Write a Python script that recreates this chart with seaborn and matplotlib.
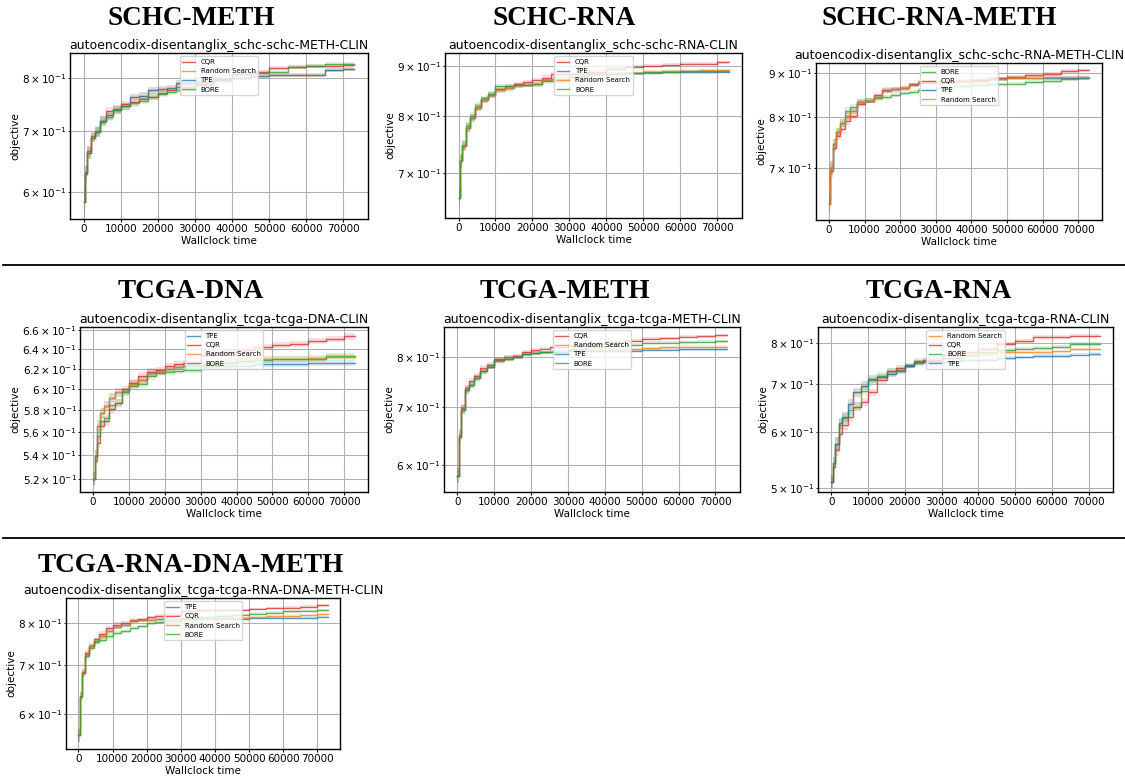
import matplotlib
matplotlib.use("Agg")
import matplotlib.pyplot as plt
from matplotlib.lines import Line2D
from matplotlib.ticker import MultipleLocator
import numpy as np
import pandas as pd
import seaborn as sns

# Shared wallclock grid (seconds); each value holds until the next grid point
wallclock = [0, 400, 1000, 2000, 3000, 4500, 6000, 8000, 10000, 12500, 15000,
             17500, 20000, 22500, 25000, 30000, 35000, 40000, 45000, 50000,
             55000, 60000, 65000, 70000, 73000]

# --- SCHC-METH -------------------------------------------------------------
schc_meth_cqr = [0.585, 0.630, 0.665, 0.690, 0.700, 0.718, 0.735, 0.740, 0.748, 0.752, 0.758, 0.763, 0.770,
                 0.775, 0.782, 0.788, 0.797, 0.808, 0.813, 0.820, 0.823, 0.824, 0.825, 0.826, 0.826]
schc_meth_rs = [0.585, 0.628, 0.662, 0.688, 0.698, 0.718, 0.728, 0.738, 0.745, 0.762, 0.765, 0.775, 0.778,
                0.780, 0.790, 0.792, 0.795, 0.800, 0.804, 0.805, 0.805, 0.806, 0.817, 0.818, 0.818]
schc_meth_tpe = [0.585, 0.628, 0.662, 0.688, 0.698, 0.718, 0.728, 0.738, 0.745, 0.762, 0.765, 0.775, 0.778,
                 0.780, 0.790, 0.792, 0.795, 0.800, 0.804, 0.805, 0.805, 0.806, 0.817, 0.818, 0.818]
schc_meth_bore = [0.585, 0.628, 0.662, 0.688, 0.698, 0.715, 0.725, 0.737, 0.745, 0.750, 0.755, 0.762, 0.768,
                  0.772, 0.776, 0.786, 0.797, 0.808, 0.810, 0.813, 0.822, 0.825, 0.829, 0.829, 0.829]
schc_meth_spread = [0.030, 0.020, 0.015, 0.012, 0.012, 0.012, 0.011, 0.010, 0.009, 0.008, 0.008, 0.008, 0.007,
                    0.007, 0.007, 0.006, 0.006, 0.006, 0.005, 0.005, 0.005, 0.005, 0.005, 0.005, 0.005]

# --- SCHC-RNA --------------------------------------------------------------
schc_rna_cqr = [0.661, 0.720, 0.746, 0.779, 0.797, 0.816, 0.831, 0.840, 0.853, 0.858, 0.862, 0.866, 0.871,
                0.876, 0.883, 0.884, 0.888, 0.894, 0.899, 0.901, 0.903, 0.905, 0.905, 0.908, 0.908]
schc_rna_tpe = [0.661, 0.720, 0.746, 0.779, 0.797, 0.816, 0.831, 0.840, 0.850, 0.854, 0.860, 0.861, 0.862,
                0.871, 0.874, 0.877, 0.883, 0.884, 0.885, 0.886, 0.887, 0.887, 0.887, 0.888, 0.888]
schc_rna_rs = [0.661, 0.720, 0.746, 0.779, 0.797, 0.816, 0.831, 0.840, 0.850, 0.854, 0.860, 0.861, 0.862,
               0.871, 0.874, 0.877, 0.883, 0.884, 0.885, 0.888, 0.889, 0.890, 0.891, 0.891, 0.891]
schc_rna_bore = [0.661, 0.722, 0.748, 0.781, 0.800, 0.820, 0.834, 0.842, 0.858, 0.858, 0.860, 0.861, 0.863,
                 0.868, 0.868, 0.877, 0.883, 0.884, 0.885, 0.887, 0.888, 0.889, 0.889, 0.889, 0.889]
schc_rna_spread = [0.020, 0.015, 0.012, 0.010, 0.009, 0.008, 0.007, 0.007, 0.006, 0.006, 0.006, 0.005, 0.005,
                   0.005, 0.005, 0.004, 0.004, 0.004, 0.004, 0.004, 0.004, 0.004, 0.004, 0.004, 0.004]

# --- SCHC-RNA-METH ---------------------------------------------------------
schc_rm_bore = [0.637, 0.700, 0.745, 0.769, 0.789, 0.814, 0.822, 0.833, 0.836, 0.842, 0.844, 0.850, 0.854,
                0.856, 0.861, 0.865, 0.869, 0.871, 0.873, 0.875, 0.879, 0.881, 0.885, 0.888, 0.888]
schc_rm_cqr = [0.637, 0.695, 0.738, 0.762, 0.775, 0.793, 0.803, 0.829, 0.836, 0.848, 0.861, 0.863, 0.865,
               0.873, 0.876, 0.879, 0.881, 0.883, 0.887, 0.891, 0.894, 0.897, 0.904, 0.906, 0.906]
schc_rm_tpe = [0.637, 0.700, 0.745, 0.769, 0.789, 0.803, 0.814, 0.833, 0.836, 0.844, 0.859, 0.862, 0.864,
               0.871, 0.879, 0.879, 0.880, 0.881, 0.886, 0.888, 0.888, 0.888, 0.888, 0.888, 0.888]
schc_rm_rs = [0.637, 0.700, 0.745, 0.769, 0.789, 0.803, 0.814, 0.833, 0.836, 0.844, 0.859, 0.862, 0.864,
              0.871, 0.879, 0.879, 0.880, 0.881, 0.886, 0.889, 0.889, 0.891, 0.891, 0.891, 0.891]
schc_rm_spread = [0.025, 0.018, 0.014, 0.012, 0.011, 0.010, 0.009, 0.008, 0.007, 0.007, 0.006, 0.006, 0.006,
                  0.005, 0.005, 0.005, 0.005, 0.005, 0.005, 0.005, 0.005, 0.005, 0.005, 0.005, 0.005]

# --- TCGA-DNA --------------------------------------------------------------
tcga_dna_tpe = [0.520, 0.539, 0.566, 0.578, 0.584, 0.592, 0.597, 0.598, 0.605, 0.609, 0.616, 0.617, 0.620,
                0.622, 0.623, 0.623, 0.623, 0.623, 0.625, 0.625, 0.625, 0.626, 0.626, 0.626, 0.626]
tcga_dna_cqr = [0.520, 0.535, 0.551, 0.566, 0.570, 0.581, 0.587, 0.600, 0.606, 0.613, 0.617, 0.619, 0.623,
                0.625, 0.626, 0.634, 0.637, 0.639, 0.642, 0.644, 0.645, 0.648, 0.650, 0.653, 0.653]
tcga_dna_rs = [0.520, 0.539, 0.566, 0.578, 0.584, 0.592, 0.597, 0.598, 0.605, 0.609, 0.616, 0.617, 0.620,
               0.622, 0.624, 0.625, 0.627, 0.628, 0.630, 0.630, 0.630, 0.631, 0.632, 0.632, 0.632]
tcga_dna_bore = [0.520, 0.539, 0.557, 0.570, 0.573, 0.585, 0.587, 0.597, 0.603, 0.605, 0.613, 0.616, 0.617,
                 0.618, 0.619, 0.623, 0.626, 0.628, 0.629, 0.630, 0.630, 0.630, 0.633, 0.633, 0.633]
tcga_dna_spread = [0.010, 0.010, 0.009, 0.008, 0.008, 0.007, 0.007, 0.006, 0.006, 0.006, 0.006, 0.005, 0.005,
                   0.005, 0.005, 0.005, 0.005, 0.005, 0.005, 0.005, 0.005, 0.005, 0.005, 0.005, 0.005]

# --- TCGA-METH -------------------------------------------------------------
tcga_meth_cqr = [0.583, 0.650, 0.698, 0.736, 0.750, 0.761, 0.777, 0.784, 0.793, 0.796, 0.803, 0.812, 0.816,
                 0.818, 0.821, 0.825, 0.829, 0.832, 0.836, 0.840, 0.841, 0.845, 0.846, 0.848, 0.848]
tcga_meth_rs = [0.583, 0.647, 0.695, 0.733, 0.743, 0.757, 0.770, 0.780, 0.796, 0.800, 0.801, 0.806, 0.809,
                0.810, 0.812, 0.814, 0.816, 0.816, 0.817, 0.819, 0.821, 0.823, 0.823, 0.823, 0.823]
tcga_meth_tpe = [0.583, 0.647, 0.695, 0.733, 0.743, 0.757, 0.770, 0.780, 0.796, 0.800, 0.801, 0.806, 0.809,
                 0.810, 0.812, 0.814, 0.814, 0.814, 0.814, 0.816, 0.816, 0.817, 0.817, 0.817, 0.817]
tcga_meth_bore = [0.583, 0.647, 0.695, 0.733, 0.743, 0.757, 0.770, 0.780, 0.791, 0.796, 0.801, 0.806, 0.809,
                  0.810, 0.812, 0.817, 0.822, 0.825, 0.827, 0.831, 0.831, 0.832, 0.833, 0.835, 0.835]
tcga_meth_spread = [0.020, 0.015, 0.012, 0.010, 0.009, 0.008, 0.007, 0.006, 0.006, 0.005, 0.005, 0.005, 0.005,
                    0.004, 0.004, 0.004, 0.004, 0.004, 0.004, 0.004, 0.004, 0.004, 0.004, 0.004, 0.004]

# --- TCGA-RNA --------------------------------------------------------------
tcga_rna_rs = [0.511, 0.542, 0.578, 0.617, 0.630, 0.657, 0.682, 0.697, 0.712, 0.717, 0.724, 0.731, 0.743,
               0.752, 0.755, 0.762, 0.767, 0.773, 0.777, 0.777, 0.777, 0.779, 0.784, 0.785, 0.785]
tcga_rna_cqr = [0.511, 0.535, 0.566, 0.597, 0.614, 0.630, 0.651, 0.661, 0.682, 0.709, 0.731, 0.739, 0.745,
                0.756, 0.757, 0.770, 0.777, 0.785, 0.797, 0.805, 0.816, 0.817, 0.820, 0.820, 0.820]
tcga_rna_bore = [0.511, 0.542, 0.578, 0.614, 0.627, 0.644, 0.651, 0.686, 0.709, 0.720, 0.731, 0.734, 0.743,
                 0.752, 0.756, 0.762, 0.770, 0.777, 0.783, 0.786, 0.788, 0.790, 0.797, 0.798, 0.798]
tcga_rna_tpe = [0.511, 0.542, 0.578, 0.617, 0.630, 0.657, 0.682, 0.697, 0.712, 0.717, 0.724, 0.731, 0.743,
                0.750, 0.752, 0.753, 0.758, 0.758, 0.763, 0.764, 0.768, 0.768, 0.771, 0.773, 0.773]
tcga_rna_spread = [0.020, 0.020, 0.020, 0.018, 0.017, 0.016, 0.015, 0.014, 0.012, 0.011, 0.010, 0.009, 0.008,
                   0.008, 0.008, 0.007, 0.007, 0.007, 0.006, 0.006, 0.006, 0.006, 0.006, 0.006, 0.006]

# --- TCGA-RNA-DNA-METH -----------------------------------------------------
tcga_rdm_tpe = [0.561, 0.634, 0.682, 0.723, 0.743, 0.755, 0.767, 0.779, 0.790, 0.796, 0.804, 0.807, 0.809,
                0.810, 0.810, 0.811, 0.811, 0.811, 0.811, 0.813, 0.813, 0.814, 0.814, 0.815, 0.815]
tcga_rdm_cqr = [0.561, 0.636, 0.685, 0.727, 0.745, 0.760, 0.773, 0.787, 0.796, 0.800, 0.809, 0.810, 0.815,
                0.818, 0.821, 0.830, 0.833, 0.834, 0.834, 0.836, 0.839, 0.840, 0.843, 0.846, 0.846]
tcga_rdm_rs = [0.561, 0.634, 0.682, 0.723, 0.743, 0.755, 0.767, 0.779, 0.790, 0.796, 0.804, 0.807, 0.809,
               0.810, 0.810, 0.811, 0.811, 0.813, 0.814, 0.815, 0.817, 0.819, 0.821, 0.822, 0.822]
tcga_rdm_bore = [0.561, 0.634, 0.682, 0.720, 0.740, 0.753, 0.759, 0.767, 0.775, 0.779, 0.787, 0.792, 0.800,
                 0.802, 0.804, 0.810, 0.815, 0.819, 0.821, 0.824, 0.827, 0.830, 0.832, 0.833, 0.833]
tcga_rdm_spread = [0.020, 0.015, 0.012, 0.010, 0.009, 0.008, 0.008, 0.007, 0.007, 0.006, 0.006, 0.005, 0.005,
                   0.005, 0.005, 0.004, 0.004, 0.004, 0.004, 0.004, 0.004, 0.004, 0.004, 0.004, 0.004]

method_colors = {"TPE": "#1f77b4", "Random Search": "#ff7f0e",
                 "BORE": "#2ca02c", "CQR": "#d62728"}

W, H = 1125, 777
plt.rcParams.update({
    "font.family": ["DejaVu Sans"],
    "xtick.labelsize": 7.5,
    "ytick.labelsize": 7.5,
    "axes.labelsize": 7.5,
    "axes.titlesize": 9,
    "axes.linewidth": 1.0,
    "axes.labelpad": 1.5,
    "axes.titlepad": 3.0,
    "xtick.major.size": 2.0,
    "xtick.major.pad": 1.5,
    "ytick.major.size": 1.5,
    "ytick.minor.size": 1.2,
    "ytick.major.pad": 1.0,
    "ytick.minor.pad": 1.0,
})

fig = plt.figure(figsize=(W / 100, H / 100), dpi=100)

# (heading, subtitle, series in legend order, spread, y-limits,
#  axes box in px (left, top, right, bottom), heading centre x / baseline y in px)
panels = [
    ("SCHC-METH", "autoencodix-disentanglix_schc-schc-METH-CLIN",
     [("CQR", schc_meth_cqr), ("Random Search", schc_meth_rs),
      ("TPE", schc_meth_tpe), ("BORE", schc_meth_bore)],
     schc_meth_spread, (0.560, 0.852), (70, 53, 368, 219), (191, 25)),
    ("SCHC-RNA", "autoencodix-disentanglix_schc-schc-RNA-CLIN",
     [("CQR", schc_rna_cqr), ("TPE", schc_rna_tpe),
      ("Random Search", schc_rna_rs), ("BORE", schc_rna_bore)],
     schc_rna_spread, (0.630, 0.928), (445, 53, 742, 218), (564, 25)),
    ("SCHC-RNA-METH", "autoencodix-disentanglix_schc-schc-RNA-METH-CLIN",
     [("BORE", schc_rm_bore), ("CQR", schc_rm_cqr),
      ("TPE", schc_rm_tpe), ("Random Search", schc_rm_rs)],
     schc_rm_spread, (0.610, 0.924), (816, 63, 1102, 220), (939, 25)),
    ("TCGA-DNA", "autoencodix-disentanglix_tcga-tcga-DNA-CLIN",
     [("TPE", tcga_dna_tpe), ("CQR", tcga_dna_cqr),
      ("Random Search", tcga_dna_rs), ("BORE", tcga_dna_bore)],
     tcga_dna_spread, (0.509, 0.663), (80, 327, 368, 492), (191, 298)),
    ("TCGA-METH", "autoencodix-disentanglix_tcga-tcga-METH-CLIN",
     [("CQR", tcga_meth_cqr), ("Random Search", tcga_meth_rs),
      ("TPE", tcga_meth_tpe), ("BORE", tcga_meth_bore)],
     tcga_meth_spread, (0.558, 0.867), (444, 327, 740, 492), (565, 298)),
    ("TCGA-RNA", "autoencodix-disentanglix_tcga-tcga-RNA-CLIN",
     [("Random Search", tcga_rna_rs), ("CQR", tcga_rna_cqr),
      ("BORE", tcga_rna_bore), ("TPE", tcga_rna_tpe)],
     tcga_rna_spread, (0.494, 0.843), (818, 327, 1113, 492), (939, 298)),
    ("TCGA-RNA-DNA-METH", "autoencodix-disentanglix_tcga-tcga-RNA-DNA-METH-CLIN",
     [("TPE", tcga_rdm_tpe), ("CQR", tcga_rdm_cqr),
      ("Random Search", tcga_rdm_rs), ("BORE", tcga_rdm_bore)],
     tcga_rdm_spread, (0.537, 0.866), (66, 598, 340, 749), (191, 572)),
]

t = np.asarray(wallclock, dtype=float)
for heading, subtitle, series, spread, ylim, box, head_xy in panels:
    left, top, right, bottom = box
    ax = fig.add_axes([left / W, 1 - bottom / H, (right - left) / W, (bottom - top) / H])
    sp = np.asarray(spread)
    for name, values in series:
        y = np.asarray(values)
        color = method_colors[name]
        ax.fill_between(t, y * (1 - sp), y * (1 + sp), step="post",
                        color=color, alpha=0.15, linewidth=0)
        df = pd.DataFrame({"Wallclock time": t, "objective": y})
        sns.lineplot(data=df, x="Wallclock time", y="objective", ax=ax,
                     color=color, linewidth=1.0, alpha=0.75,
                     drawstyle="steps-post", estimator=None, label=name)
    ax.set_yscale("log")
    ax.set_ylim(*ylim)
    ax.xaxis.set_major_locator(MultipleLocator(10000))
    ax.grid(True, which="both", color="#b0b0b0", linewidth=0.8)
    ax.set_axisbelow(True)
    ax.set_title(subtitle)
    ax.legend(loc="upper center", fontsize=5, handlelength=1.8,
              borderpad=0.4, labelspacing=0.45)
    fig.text(head_xy[0] / W, 1 - head_xy[1] / H, heading, ha="center", va="baseline",
             fontsize=19.5, fontweight="bold", family=["Liberation Serif", "DejaVu Serif"])

# Horizontal rules between the rows of panels
for y_px in (265, 538):
    fig.add_artist(Line2D([0.003, 1.0], [1 - y_px / H] * 2, color="black", linewidth=1.3))

fig.savefig("out.png", dpi=100)
